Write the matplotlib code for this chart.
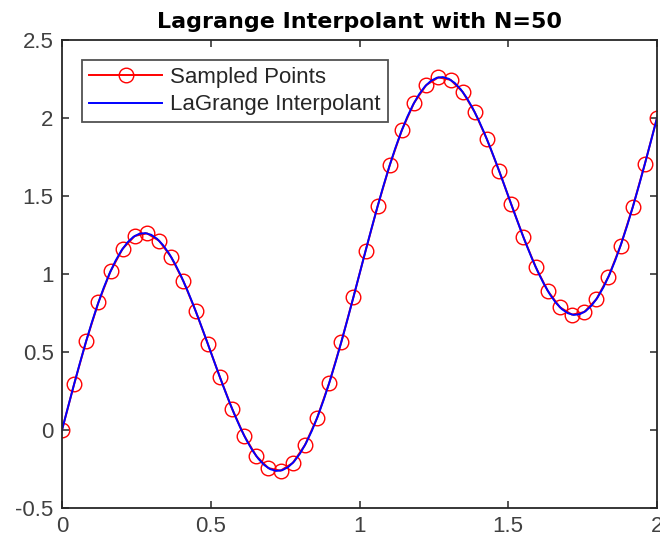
import numpy as np
import matplotlib.pyplot as plt

plt.rcParams['font.family'] = ['Liberation Sans', 'DejaVu Sans']

# sample nodes on [0, 2]
x_nodes = np.linspace(0, 2, 50)
y_nodes = [0.0000, 0.2945, 0.5723, 0.8183, 1.0184, 1.1628, 1.2444, 1.2606,
           1.2131, 1.1076, 0.9537, 0.7641, 0.5539, 0.3394, 0.1375, -0.0360,
           -0.1671, -0.2446, -0.2607, -0.2117, -0.0981, 0.0753, 0.2999, 0.5636,
           0.8517, 1.1483, 1.4364, 1.7001, 1.9247, 2.0981, 2.2117, 2.2607,
           2.2446, 2.1671, 2.0360, 1.8625, 1.6606, 1.4461, 1.2359, 1.0463,
           0.8924, 0.7869, 0.7394, 0.7556, 0.8372, 0.9816, 1.1817, 1.4277,
           1.7055, 2.0000]

# interpolant evaluated on a finer grid
x_fine = np.linspace(0, 2, 101)
y_fine = [0.0000, 0.1453, 0.2887, 0.4281, 0.5618, 0.6878, 0.8045, 0.9105,
          1.0043, 1.0848, 1.1511, 1.2023, 1.2380, 1.2580, 1.2623, 1.2511,
          1.2248, 1.1843, 1.1305, 1.0645, 0.9878, 0.9018, 0.8081, 0.7087,
          0.6053, 0.5000, 0.3947, 0.2913, 0.1919, 0.0982, 0.0122, -0.0645,
          -0.1305, -0.1843, -0.2248, -0.2511, -0.2623, -0.2580, -0.2380,
          -0.2023, -0.1511, -0.0848, -0.0043, 0.0895, 0.1955, 0.3122, 0.4382,
          0.5719, 0.7113, 0.8547, 1.0000, 1.1453, 1.2887, 1.4281, 1.5618,
          1.6878, 1.8045, 1.9105, 2.0043, 2.0848, 2.1511, 2.2023, 2.2380,
          2.2580, 2.2623, 2.2511, 2.2248, 2.1843, 2.1305, 2.0645, 1.9878,
          1.9018, 1.8081, 1.7087, 1.6053, 1.5000, 1.3947, 1.2913, 1.1919,
          1.0982, 1.0122, 0.9355, 0.8695, 0.8157, 0.7752, 0.7489, 0.7377,
          0.7420, 0.7620, 0.7977, 0.8489, 0.9152, 0.9957, 1.0895, 1.1955,
          1.3122, 1.4382, 1.5719, 1.7113, 1.8547, 2.0000]

fig = plt.figure(figsize=(6.6, 5.46), dpi=100)
ax = fig.add_axes([62 / 660, 1 - 508 / 546, 595 / 660, 468 / 546])

ax.plot(x_nodes, y_nodes, '-o', color='#ff0000', lw=1.4, ms=10.5,
        mfc='none', mec='#ff0000', mew=1.0, label='Sampled Points')
ax.plot(x_fine, y_fine, '-', color='#0000ff', lw=1.4, label='LaGrange Interpolant')

ax.set_xlim(0, 2)
ax.set_ylim(-0.5, 2.5)
ax.set_xticks([0, 0.5, 1, 1.5, 2])
ax.set_xticklabels(['0', '0.5', '1', '1.5', '2'])
ax.set_yticks([-0.5, 0, 0.5, 1, 1.5, 2, 2.5])
ax.set_yticklabels(['-0.5', '0', '0.5', '1', '1.5', '2', '2.5'])

axcol = '#262626'
for s in ax.spines.values():
    s.set_color(axcol)
    s.set_linewidth(1.3)
ax.tick_params(direction='in', length=5, width=1.1, color=axcol,
               labelcolor='#404040', labelsize=16, top=True, right=True, pad=6)

ax.set_title('Lagrange Interpolant with N=50', fontsize=16, fontweight='bold',
             family='DejaVu Sans', pad=9)

leg = ax.legend(loc='upper left', fontsize=16, fancybox=False,
                frameon=True, borderaxespad=0.9, handlelength=3.3,
                handletextpad=0.36, borderpad=0.32, labelspacing=0.28)
leg.get_frame().set_edgecolor(axcol)
leg.get_frame().set_linewidth(1.3)
for t in leg.get_texts():
    t.set_color('#262626')

fig.savefig('out.png', dpi=100)
